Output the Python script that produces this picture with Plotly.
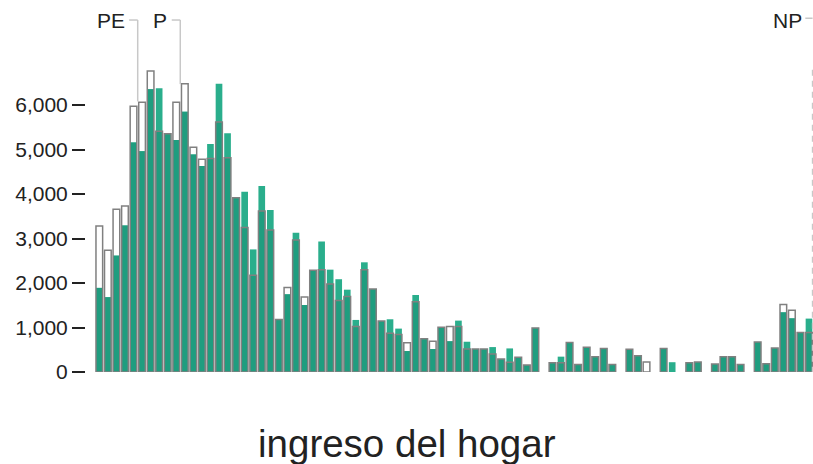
import plotly.graph_objects as go

# Household-income bins (left to right) and two counts per bin
bins = list(range(84))
outline_vals = [
    3280, 2735, 3655, 3730, 5970, 6060, 6765, 5410, 5355, 6060,
    6480, 5050, 4780, 4800, 5620, 4815, 3915, 3250, 2175, 3620,
    3190, 1180, 1900, 2965, 1685, 2285, 2300, 1980, 1605, 1695,
    1020, 2300, 1865, 1145, 870, 840, 660, 1580, 750, 690,
    1005, 1020, 1020, 515, 515, 515, 405, 290, 220, 330,
    155, 990, 0, 210, 210, 665, 170, 555, 345, 530,
    170, 0, 510, 365, 225, 0, 530, 0, 0, 210,
    225, 0, 180, 345, 345, 170, 0, 675, 185, 540,
    1515, 1385, 890, 890,
]
green_vals = [
    1890, 1680, 2615, 3290, 5160, 4960, 6355, 6375, 5355, 5215,
    5850, 4890, 4630, 5125, 6480, 5365, 3915, 4050, 2755, 4180,
    3640, 1180, 1745, 3130, 1505, 2285, 2930, 2300, 2085, 1850,
    1170, 2465, 1865, 1145, 1185, 975, 470, 1730, 750, 515,
    1005, 690, 1155, 680, 515, 515, 560, 290, 530, 330,
    155, 990, 0, 210, 345, 665, 170, 555, 345, 530,
    170, 0, 510, 365, 0, 0, 530, 220, 0, 210,
    225, 0, 180, 345, 345, 170, 0, 675, 185, 540,
    1340, 1205, 890, 1200,
]
tick_vals = [0, 1000, 2000, 3000, 4000, 5000, 6000]
axis_title = "ingreso del hogar"
markers = [("PE", 4.49, 6080), ("P", 9.47, 6470)]
np_label = ("NP", 83.42)

FONT = "Liberation Sans, Arial, sans-serif"
GREEN_LIGHT = "#2aae8c"
GREEN_DARK = "#1f9d7f"
W = 0.78

overlap = [min(a, b) if min(a, b) > 0 else None for a, b in zip(outline_vals, green_vals)]
green_nz = [b if b > 0 else None for b in green_vals]
outline_nz = [a if a > 0 else None for a in outline_vals]

fig = go.Figure()
fig.add_trace(go.Bar(x=bins, y=green_nz, width=W, marker=dict(color=GREEN_LIGHT, line=dict(width=0)),
                     hoverinfo="skip", showlegend=False))
fig.add_trace(go.Bar(x=bins, y=overlap, width=W, marker=dict(color=GREEN_DARK, line=dict(width=0)),
                     hoverinfo="skip", showlegend=False))
fig.add_trace(go.Bar(x=bins, y=outline_nz, width=W,
                     marker=dict(color="rgba(0,0,0,0)", line=dict(color="#808080", width=1.5)),
                     hoverinfo="skip", showlegend=False))

LINE_GRAY = "#c8c8c8"
Y_TOP = 7910  # level of the label leader lines
shapes = []
annotations = []
for lab, xv, yend in markers:
    shapes.append(dict(type="line", xref="x", yref="y", x0=xv - 1.0, x1=xv, y0=Y_TOP, y1=Y_TOP,
                       line=dict(color=LINE_GRAY, width=1.5)))
    shapes.append(dict(type="line", xref="x", yref="y", x0=xv, x1=xv, y0=Y_TOP, y1=yend,
                       line=dict(color=LINE_GRAY, width=1.5)))
    annotations.append(dict(x=xv - 1.3, y=Y_TOP, xref="x", yref="y", text=lab, showarrow=False,
                            xanchor="right", yanchor="middle", font=dict(family=FONT, size=21, color="#222")))
lab, xv = np_label
shapes.append(dict(type="line", xref="x", yref="y", x0=xv - 0.85, x1=xv, y0=Y_TOP + 40, y1=Y_TOP + 40,
                   line=dict(color=LINE_GRAY, width=1.5)))
shapes.append(dict(type="line", xref="x", yref="y", x0=xv, x1=xv, y0=6790, y1=0,
                   line=dict(color=LINE_GRAY, width=1.5, dash="6px,5px")))
annotations.append(dict(x=xv - 1.05, y=Y_TOP, xref="x", yref="y", text=lab, showarrow=False,
                        xanchor="right", yanchor="middle", font=dict(family=FONT, size=21, color="#222")))
annotations.append(dict(x=0.4409, y=-0.191, xref="paper", yref="paper", text=axis_title, showarrow=False,
                        xanchor="center", yanchor="middle", font=dict(family=FONT, size=38.5, color="#222")))

fig.update_layout(
    width=813, height=464,
    margin=dict(l=86, r=0, t=0, b=92),
    paper_bgcolor="white", plot_bgcolor="white",
    barmode="overlay",
    shapes=shapes, annotations=annotations,
    xaxis=dict(range=[-1.556, 83.47], showticklabels=False, showgrid=False, zeroline=False,
               showline=False, ticks=""),
    yaxis=dict(range=[0, 8360], tickvals=tick_vals, tickformat=",d", showgrid=False, zeroline=False,
               showline=False, ticks="outside", ticklen=13, tickwidth=1.8, tickcolor="#222",
               tickfont=dict(family=FONT, size=21, color="#222")),
)

fig.write_html("out.html", config={"displayModeBar": False},
               post_script="document.body.style.margin='0';document.body.style.overflow='hidden';")
